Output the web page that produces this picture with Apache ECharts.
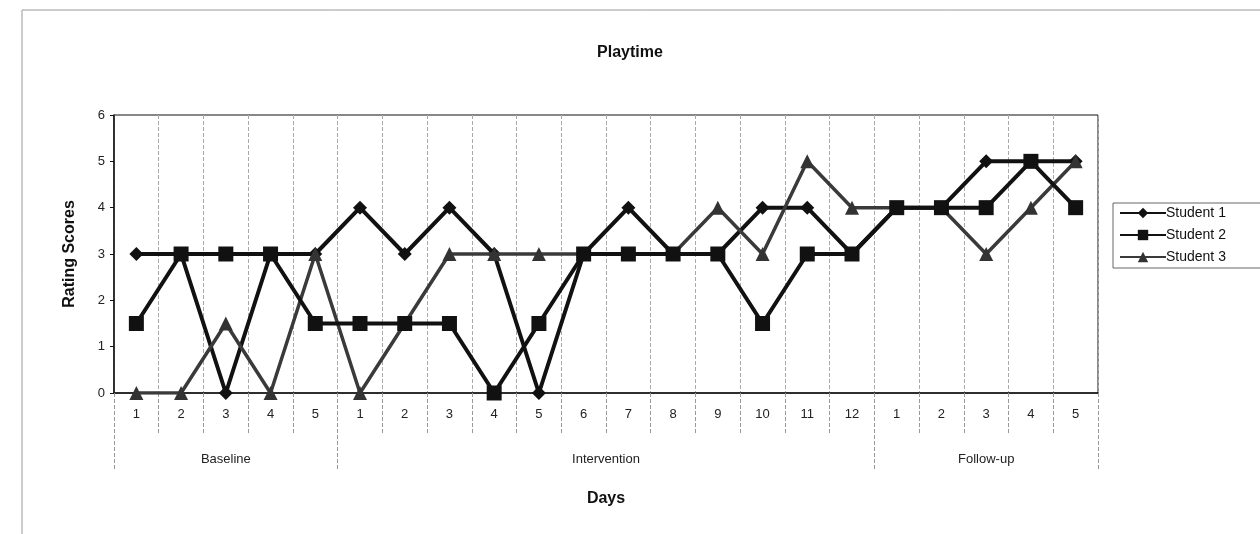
<!DOCTYPE html>
<html>
<head>
<meta charset="utf-8" />
<title>Playtime</title>
<script src="https://cdn.jsdelivr.net/npm/echarts@6/dist/echarts.min.js"></script>
<style>
  html, body { margin: 0; padding: 0; background: #fff; }
  #chart { width: 1260px; height: 534px; }
</style>
</head>
<body>
<div id="chart"></div>
<script>
// day labels, per phase
var days = ['1', '2', '3', '4', '5',
  '1', '2', '3', '4', '5', '6', '7', '8', '9', '10', '11', '12',
  '1', '2', '3', '4', '5'];
// phase names and where they sit on the day scale (0..22)
var phases = ['Baseline', 'Intervention', 'Follow-up'];
var phaseCenters = [2.5, 11, 19.5];
var phaseBounds = [0, 5, 17, 22];

var student1 = [3, 3, 0, 3, 3, 4, 3, 4, 3, 0, 3, 4, 3, 3, 4, 4, 3, 4, 4, 5, 5, 5];
var student2 = [1.5, 3, 3, 3, 1.5, 1.5, 1.5, 1.5, 0, 1.5, 3, 3, 3, 3, 1.5, 3, 3, 4, 4, 4, 5, 4];
var student3 = [0, 0, 1.5, 0, 3, 0, 1.5, 3, 3, 3, 3, 3, 3, 4, 3, 5, 4, 4, 4, 3, 4, 5];

var myChart = echarts.init(document.getElementById('chart'));
var font = 'Liberation Sans, Arial, sans-serif';

myChart.setOption({
  backgroundColor: '#fff',
  textStyle: { fontFamily: font },
  title: {
    text: 'Playtime',
    left: 'center',
    top: 40,
    textStyle: { fontSize: 16, fontWeight: 'bold', color: '#111', fontFamily: font }
  },
  legend: {
    orient: 'vertical',
    left: 1113,
    top: 203,
    data: ['Student 1', 'Student 2', 'Student 3'],
    itemWidth: 46,
    itemHeight: 13,
    itemGap: 8,
    padding: [3, 60, 4, 6],
    borderColor: '#666',
    borderWidth: 1,
    textStyle: { fontSize: 14, color: '#111', fontFamily: font, padding: [0, 0, 0, -5] }
  },
  grid: {
    left: 114,
    right: 162,
    top: 115,
    bottom: 141,
    show: true,
    borderColor: '#111',
    borderWidth: 1
  },
  xAxis: [{
    type: 'category',
    data: days,
    boundaryGap: true,
    name: 'Days',
    nameLocation: 'middle',
    nameGap: 98,
    nameTextStyle: { fontSize: 16, fontWeight: 'bold', color: '#111', fontFamily: font },
    axisLine: { lineStyle: { color: '#111', width: 1.5 } },
    axisTick: { show: true, interval: 0, length: 40, lineStyle: { color: '#999', type: 'dashed' } },
    axisLabel: { interval: 0, margin: 15, fontSize: 13, color: '#222', fontFamily: font },
    splitLine: { show: true, interval: 0, lineStyle: { color: '#aaa', type: 'dashed', width: 1 } }
  }, {
    type: 'value',
    position: 'bottom',
    min: 0,
    max: 22,
    axisLine: { show: false },
    axisTick: { show: true, customValues: phaseBounds, length: 77, lineStyle: { color: '#999', type: 'dashed' } },
    axisLabel: {
      customValues: phaseCenters,
      margin: 60,
      fontSize: 13,
      color: '#222',
      fontFamily: font,
      formatter: function (v) {
        var i = phaseCenters.indexOf(v);
        return i >= 0 ? phases[i] : '';
      }
    },
    splitLine: { show: false }
  }],
  yAxis: {
    type: 'value',
    min: 0,
    max: 6,
    interval: 1,
    name: 'Rating Scores',
    nameLocation: 'middle',
    nameGap: 36,
    nameTextStyle: { fontSize: 16, fontWeight: 'bold', color: '#111', fontFamily: font },
    axisLine: { show: true, lineStyle: { color: '#111', width: 1.5 } },
    axisTick: { show: true, length: 4, lineStyle: { color: '#111' } },
    axisLabel: { fontSize: 13, color: '#222', margin: 9, fontFamily: font },
    splitLine: { show: false }
  },
  series: [{
    name: 'Student 1',
    type: 'line',
    data: student1,
    z: 3,
    symbol: 'diamond',
    symbolSize: 14,
    itemStyle: { color: '#111' },
    lineStyle: { color: '#111', width: 4 }
  }, {
    name: 'Student 2',
    type: 'line',
    data: student2,
    z: 5,
    symbol: 'rect',
    symbolSize: 15,
    itemStyle: { color: '#111' },
    lineStyle: { color: '#111', width: 4 }
  }, {
    name: 'Student 3',
    type: 'line',
    data: student3,
    z: 4,
    symbol: 'triangle',
    symbolSize: 14,
    itemStyle: { color: '#333' },
    lineStyle: { color: '#3a3a3a', width: 3.5 }
  }],
  graphic: [{
    type: 'rect',
    shape: { x: 22, y: 10, width: 1300, height: 600 },
    style: { fill: null, stroke: '#999', lineWidth: 1 },
    silent: true
  }]
});

window.onresize = function () {
  myChart.resize();
};
</script>
</body>
</html>
